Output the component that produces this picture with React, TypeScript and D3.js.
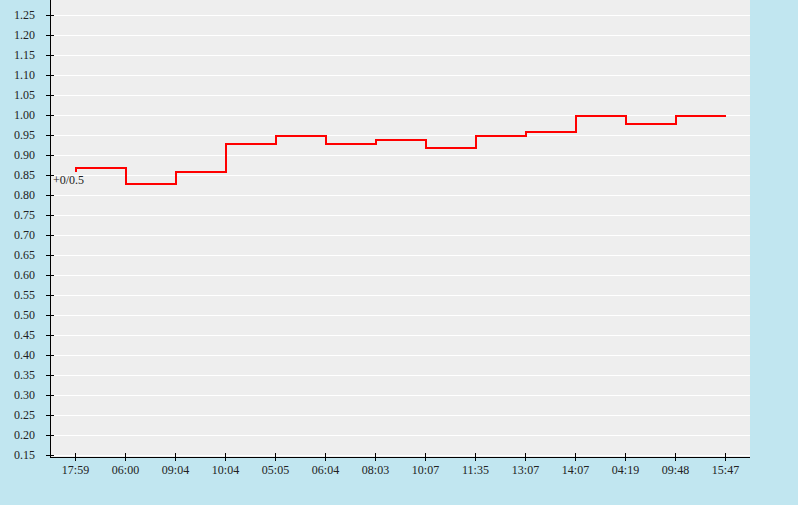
import React from "react";
import * as d3 from "d3";

const categories = ["17:59","06:00","09:04","10:04","05:05","06:04","08:03","10:07","11:35","13:07","14:07","04:19","09:48","15:47"];
const values = [0.87,0.83,0.86,0.93,0.95,0.93,0.94,0.92,0.95,0.96,1.00,0.98,1.00,1.00];
const openValue = 0.86;
const startLabel = "+0/0.5";
const yTicks = d3.range(0.15, 1.2501, 0.05).map(v => +v.toFixed(2));

const W = 798, H = 505;
const left = 50, right = 750, axisY = 457;

export default function App() {
  const x = d3.scaleBand<string>().domain(categories).range([left, right]);
  const cx = (c: string) => (x(c) as number) + x.bandwidth() / 2;
  const y = d3.scaleLinear().domain([0.15, 1.25]).range([455, 15]);

  const pts: [number, number][] = [[cx(categories[0]), y(openValue)], ...categories.map((c, i) => [cx(c), y(values[i])] as [number, number])];
  const line = d3.line<[number, number]>().x(d => d[0]).y(d => d[1]).curve(d3.curveStepAfter);

  const font = "'Liberation Serif', 'Times New Roman', serif";
  return (
    <svg width={W} height={H} style={{ position: "absolute", left: 0, top: 0 }} fontFamily={font}>
      <rect x={0} y={0} width={W} height={H} fill="#c1e6f0" />
      <rect x={left} y={0} width={right - left} height={axisY} fill="#eeeeee" />
      {yTicks.map(t => (
        <g key={t}>
          <line x1={left} x2={right} y1={y(t) + 0.5} y2={y(t) + 0.5} stroke="#ffffff" strokeWidth={1} />
          <line x1={46} x2={54} y1={y(t) + 0.5} y2={y(t) + 0.5} stroke="#000" strokeWidth={1} />
          <text x={35} y={y(t)} dy="0.35em" textAnchor="end" fontSize={12} fill="#222">{t.toFixed(2)}</text>
        </g>
      ))}
      {categories.map(c => (
        <g key={c}>
          <line x1={cx(c) + 0.5} x2={cx(c) + 0.5} y1={453} y2={461} stroke="#000" strokeWidth={1} />
          <text x={cx(c) + 0.5} y={474} textAnchor="middle" fontSize={12} fill="#222">{c}</text>
        </g>
      ))}
      <line x1={left + 0.5} x2={left + 0.5} y1={0} y2={axisY} stroke="#000" strokeWidth={1} />
      <line x1={left} x2={right} y1={axisY + 0.5} y2={axisY + 0.5} stroke="#000" strokeWidth={1} />
      <path d={line(pts) || ""} transform="translate(1,1)" fill="none" stroke="#ff0000" strokeWidth={2} />
      <text x={53} y={184} fontSize={12} fill="#222">{startLabel}</text>
    </svg>
  );
}
